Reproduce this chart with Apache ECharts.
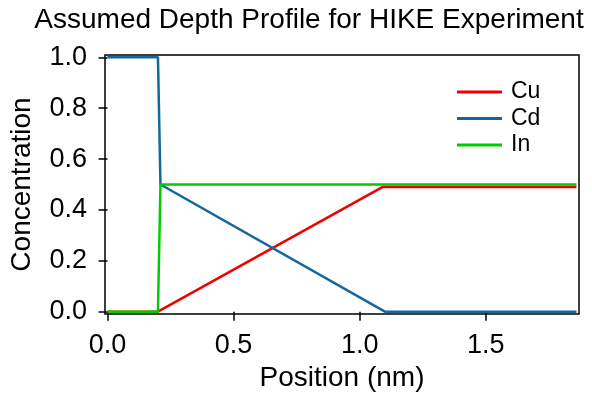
<!DOCTYPE html>
<html>
<head>
<meta charset="utf-8">
<script src="https://cdn.jsdelivr.net/npm/echarts@6/dist/echarts.min.js"></script>
<style>
  html, body { margin: 0; padding: 0; background: #fff; }
  #chart { width: 592px; height: 400px; }
</style>
</head>
<body>
<div id="chart"></div>
<script>
// Depth profile: concentration of each element against position (nm)
const seriesNames = ['Cu', 'Cd', 'In'];
const cuProfile = [[0, 0], [0.2, 0], [1.09, 0.49], [1.86, 0.49]];
const cdProfile = [[0, 1.0], [0.2, 1.0], [0.21, 0.5], [1.1, 0], [1.86, 0]];
const inProfile = [[0, 0], [0.2, 0], [0.21, 0.5], [1.86, 0.5]];
const xTicks = [0, 0.5, 1.0, 1.5];
const yTicks = [0, 0.2, 0.4, 0.6, 0.8, 1.0];
const colors = ['#f00000', '#15679b', '#00cc00'];

const font = '"Liberation Sans", Arial, sans-serif';
const chart = echarts.init(document.getElementById('chart'), null, { renderer: 'canvas' });

function lineSeries(name, data, color) {
  return {
    name: name,
    type: 'line',
    data: data,
    symbol: 'none',
    animation: false,
    lineStyle: { color: color, width: 2.5 },
    itemStyle: { color: color }
  };
}

chart.setOption({
  backgroundColor: '#ffffff',
  animation: false,
  title: {
    text: 'Assumed Depth Profile for HIKE Experiment',
    left: 304,
    textAlign: 'center',
    top: 1,
    textStyle: { fontFamily: font, fontSize: 28, fontWeight: 'normal', color: '#000' }
  },
  legend: {
    orient: 'vertical',
    left: 457,
    top: 80,
    padding: 0,
    icon: 'rect',
    itemWidth: 45,
    itemHeight: 3,
    itemGap: 2.5,
    data: seriesNames,
    textStyle: { fontFamily: font, fontSize: 23, color: '#000', lineHeight: 24, padding: [0, 0, 0, 4] }
  },
  grid: {
    left: 102,
    right: 13,
    top: 55,
    bottom: 86,
    show: true,
    borderColor: '#000',
    borderWidth: 1.5,
    backgroundColor: 'transparent'
  },
  xAxis: {
    type: 'value',
    min: -0.01,
    max: 1.87,
    name: 'Position (nm)',
    nameLocation: 'middle',
    nameGap: 38,
    nameTextStyle: { fontFamily: font, fontSize: 28, color: '#000' },
    axisLine: { show: false },
    splitLine: { show: false },
    axisTick: { show: true, inside: false, length: 9, customValues: xTicks, lineStyle: { color: '#000', width: 1.5 } },
    axisLabel: {
      customValues: xTicks,
      margin: 18,
      fontFamily: font,
      fontSize: 27,
      color: '#000',
      formatter: v => v.toFixed(1)
    }
  },
  yAxis: {
    type: 'value',
    min: -0.009,
    max: 1.009,
    name: 'Concentration',
    nameLocation: 'middle',
    nameGap: 69,
    nameTextStyle: { fontFamily: font, fontSize: 28, color: '#000' },
    axisLine: { show: false },
    splitLine: { show: false },
    axisTick: { show: true, inside: false, length: 9, customValues: yTicks, lineStyle: { color: '#000', width: 1.5 } },
    axisLabel: {
      customValues: yTicks,
      margin: 18,
      fontFamily: font,
      fontSize: 27,
      color: '#000',
      formatter: v => v.toFixed(1)
    }
  },
  series: [
    lineSeries('Cu', cuProfile, colors[0]),
    lineSeries('Cd', cdProfile, colors[1]),
    lineSeries('In', inProfile, colors[2])
  ]
});
</script>
</body>
</html>
